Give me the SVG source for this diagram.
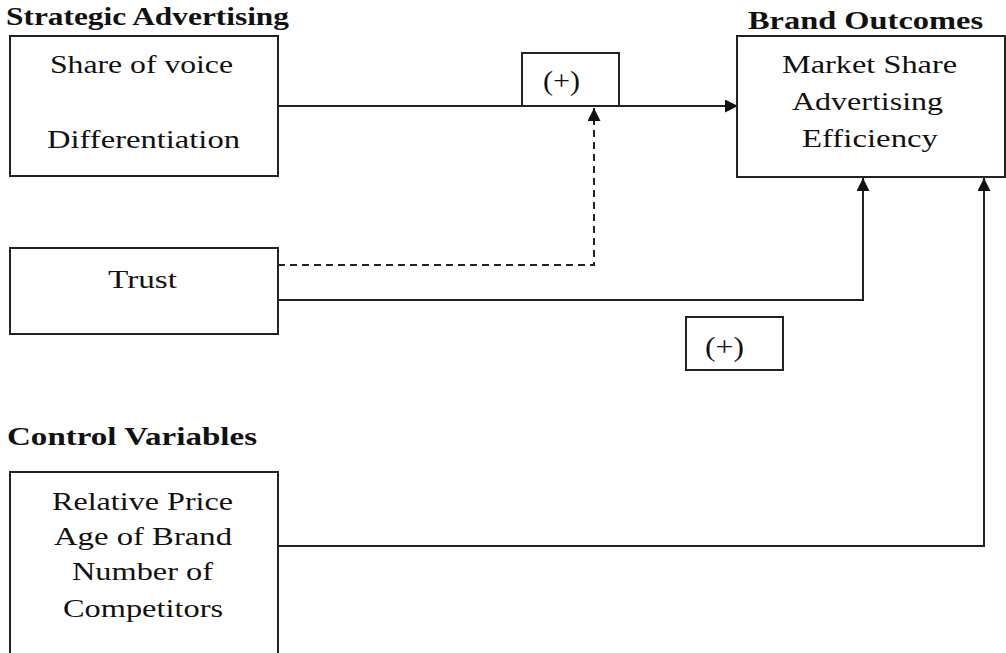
<svg xmlns="http://www.w3.org/2000/svg" width="1006" height="653" viewBox="0 0 1006 653">
  <style>
    .box { fill: #fff; stroke: #222; stroke-width: 2; }
    .wire { fill: none; stroke: #222; stroke-width: 2; }
    .dash { fill: none; stroke: #222; stroke-width: 2; stroke-dasharray: 7 5; }
    .t { font-family: "Liberation Serif", "Times New Roman", serif; font-size: 25px; fill: #111; }
    .p { font-family: "Liberation Serif", "Times New Roman", serif; font-size: 28px; fill: #111; }
    .h { font-family: "Liberation Serif", "Times New Roman", serif; font-size: 25px; font-weight: bold; fill: #111; }
  </style>
  <defs>
    <marker id="arrow" viewBox="0 0 13 13" refX="13" refY="6.5" markerWidth="13" markerHeight="13" markerUnits="userSpaceOnUse" orient="auto">
      <path d="M0,0 L13,6.5 L0,13 Z" fill="#111"/>
    </marker>
  </defs>
  <rect width="1006" height="653" fill="#fff"/>

  <!-- section headings -->
  <text class="h" x="6" y="25" textLength="283" lengthAdjust="spacingAndGlyphs">Strategic Advertising</text>
  <text class="h" x="748" y="29" textLength="235" lengthAdjust="spacingAndGlyphs">Brand Outcomes</text>
  <text class="h" x="7" y="445" textLength="250" lengthAdjust="spacingAndGlyphs">Control Variables</text>

  <!-- connectors -->
  <g id="connectors">
    <path class="wire" d="M278,106 H738" marker-end="url(#arrow)"/>
    <path class="dash" d="M278,265 H594 V108" marker-end="url(#arrow)"/>
    <path class="wire" d="M278,300 H863 V178" marker-end="url(#arrow)"/>
    <path class="wire" d="M278,546 H984 V178" marker-end="url(#arrow)"/>
  </g>

  <g id="strategic">
    <rect class="box" x="10" y="36" width="268" height="140"/>
    <text class="t" x="50" y="73" textLength="183" lengthAdjust="spacingAndGlyphs">Share of voice</text>
    <text class="t" x="47" y="148" textLength="193" lengthAdjust="spacingAndGlyphs">Differentiation</text>
  </g>

  <g id="plus-top">
    <path class="wire" d="M522,106 V53 H619 V106"/>
    <text class="p" x="543" y="90" textLength="37" lengthAdjust="spacingAndGlyphs">(+)</text>
  </g>

  <g id="outcomes">
    <rect class="box" x="737" y="36" width="268" height="141"/>
    <text class="t" x="782" y="73" textLength="175" lengthAdjust="spacingAndGlyphs">Market Share</text>
    <text class="t" x="792" y="110" textLength="151" lengthAdjust="spacingAndGlyphs">Advertising</text>
    <text class="t" x="802" y="147" textLength="136" lengthAdjust="spacingAndGlyphs">Efficiency</text>
  </g>

  <g id="trust">
    <rect class="box" x="10" y="248" width="268" height="86"/>
    <text class="t" x="108" y="288" textLength="69" lengthAdjust="spacingAndGlyphs">Trust</text>
  </g>

  <g id="plus-mid">
    <rect class="box" x="686" y="317" width="97" height="53"/>
    <text class="p" x="705" y="356" textLength="39" lengthAdjust="spacingAndGlyphs">(+)</text>
  </g>

  <g id="controls">
    <rect class="box" x="10" y="472" width="268" height="190"/>
    <text class="t" x="52" y="510" textLength="181" lengthAdjust="spacingAndGlyphs">Relative Price</text>
    <text class="t" x="54" y="545" textLength="178" lengthAdjust="spacingAndGlyphs">Age of Brand</text>
    <text class="t" x="72" y="580" textLength="141" lengthAdjust="spacingAndGlyphs">Number of</text>
    <text class="t" x="63" y="617" textLength="160" lengthAdjust="spacingAndGlyphs">Competitors</text>
  </g>
</svg>
